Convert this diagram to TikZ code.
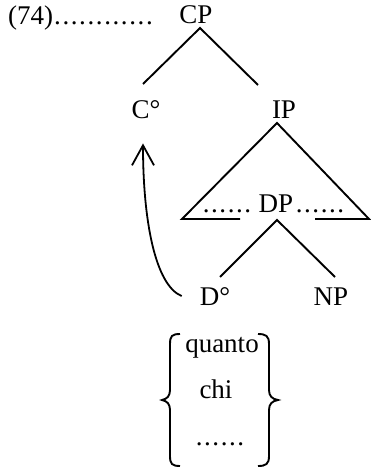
\documentclass[tikz,border=0pt]{standalone}
\usepackage{fontspec}
\setmainfont{Liberation Serif}
\usetikzlibrary{arrows.meta}
% one spaced leader dot
\newcommand\pdot{.\kern1.6pt}
\newcommand\sixdots{\pdot\pdot\pdot\pdot\pdot.}
\begin{document}
\begin{tikzpicture}[x=1pt,y=-1pt,
  lbl/.style={inner sep=0pt,anchor=base,font=\fontsize{27}{32}\selectfont},
  branch/.style={line width=1.9pt},
  movement/.style={line width=1.8pt,-{Straight Barb[length=20pt,width=22pt,line width=1.8pt]}}]
\useasboundingbox (0,0) rectangle (370,468);

% example number and root
\node[lbl,anchor=base west] (ex) at (8,25) {(74)\kern1pt\pdot\pdot\pdot\pdot\pdot\pdot\pdot\pdot\pdot\pdot\pdot.};
\node[lbl] (cp) at (196,24) {CP};
\node[lbl] (c) at (146,118) {C°};
\node[lbl] (ip) at (284,118) {IP};

% DP inside the IP triangle
\node[lbl] (dp) at (276,212) {DP};
\node[lbl] (dotsl) at (227,212) {\sixdots};
\node[lbl] (dotsr) at (320,212) {\sixdots};
\node[lbl] (d) at (215,305) {D°};
\node[lbl] (np) at (331,305) {NP};

% branch end points
\coordinate (cpapex) at (200,28);
\coordinate (cfoot) at (143,84);
\coordinate (ipfoot) at (258,85);
\coordinate (tapex) at (277,123);
\coordinate (tleft) at (182,219);
\coordinate (tright) at (369,219);
\coordinate (tbasel) at (240,219);
\coordinate (tbaser) at (315,219);
\coordinate (dpapex) at (277,220);
\coordinate (dfoot) at (220,277);
\coordinate (npfoot) at (335,277);

\draw[branch] (cfoot) -- (cpapex) -- (ipfoot);
\draw[branch] (tbasel) -- (tleft) -- (tapex) -- (tright) -- (tbaser);
\draw[branch] (dfoot) -- (dpapex) -- (npfoot);

% head movement D° to C°
\draw[movement] ([xshift=-18pt]d.west) .. controls (155,285) and (143,220) .. ([shift={(-3,25)}]c.south);

% set of possible determiners
\node[lbl] (q1) at (222,352) {quanto};
\node[lbl] (q2) at (216,398) {chi};
\node[lbl] (q3) at (220,445) {\sixdots};

\draw[branch] (180,334) .. controls (172,334) and (170,336) .. (170,344)
  -- (170,390) .. controls (170,396) and (167,399) .. (162,400)
  .. controls (167,401) and (170,404) .. (170,410)
  -- (170,456) .. controls (170,464) and (172,466) .. (180,466);
\draw[branch] (258,334) .. controls (266,334) and (269,336) .. (269,344)
  -- (269,390) .. controls (269,396) and (272,399) .. (278,400)
  .. controls (272,401) and (269,404) .. (269,410)
  -- (269,456) .. controls (269,464) and (266,466) .. (258,466);
\end{tikzpicture}
\end{document}
